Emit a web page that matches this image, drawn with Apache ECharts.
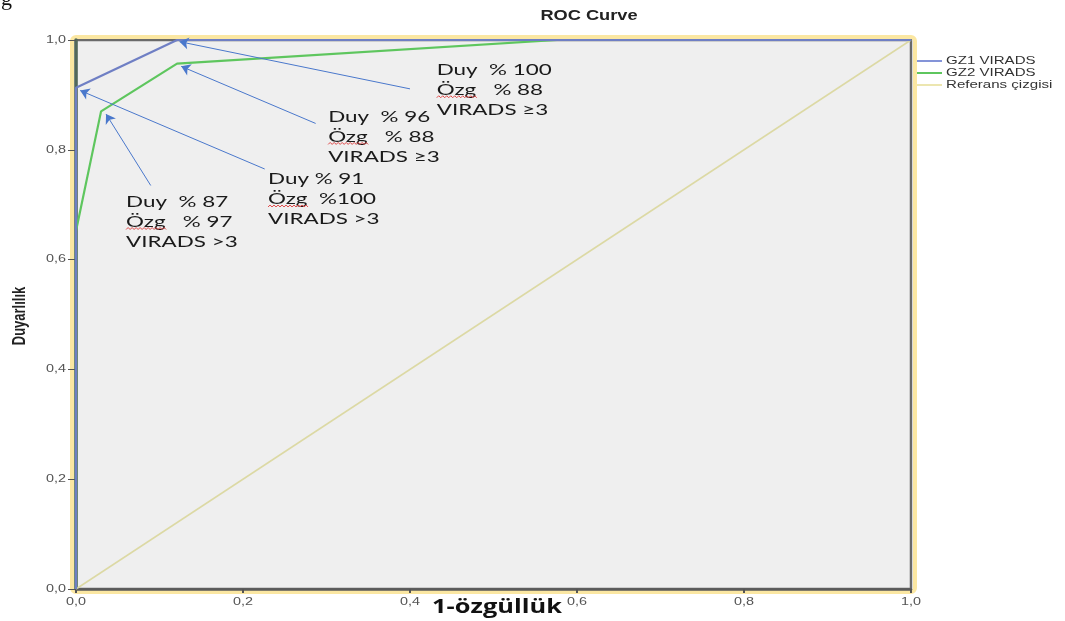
<!DOCTYPE html>
<html>
<head>
<meta charset="utf-8">
<script src="https://cdn.jsdelivr.net/npm/echarts@6/dist/echarts.min.js"></script>
<style>
  html, body { margin: 0; padding: 0; background: #ffffff; }
  #chart { width: 1065px; height: 621px; }
</style>
</head>
<body>
<div id="chart"></div>
<script>
// Axis ticks (1-specificity on x, sensitivity on y)
const xTicks = [0, 0.2, 0.4, 0.6, 0.8, 1.0];
const yTicks = [0, 0.2, 0.4, 0.6, 0.8, 1.0];

// ROC points for GZ1 VIRADS
const gz1Fpr = [0, 0, 0.121, 1];
const gz1Tpr = [0, 0.913, 1, 1];

// ROC points for GZ2 VIRADS
const gz2Fpr = [0, 0, 0.030, 0.121, 0.576, 1];
const gz2Tpr = [0, 0.652, 0.870, 0.957, 1, 1];

// Diagonal reference line
const refFpr = [0, 1];
const refTpr = [0, 1];

// Cut-off notes: text, top-left anchor, arrow tail and arrow tip (data units)
const noteTexts = [
  ['Duy  % 100', 'Özg   % 88', 'VIRADS ≥3'],
  ['Duy  % 96', 'Özg   % 88', 'VIRADS ≥3'],
  ['Duy % 91', 'Özg  %100', 'VIRADS >3'],
  ['Duy  % 87', 'Özg   % 97', 'VIRADS >3']
];
const noteAnchors = [[0.432, 0.964], [0.302, 0.879], [0.230, 0.765], [0.060, 0.724]];
const noteTails = [[0.400, 0.911], [0.287, 0.848], [0.226, 0.765], [0.0895, 0.735]];
const noteTips = [[0.124, 0.997], [0.126, 0.952], [0.005, 0.908], [0.036, 0.865]];

const legendNames = ['GZ1 VIRADS', 'GZ2 VIRADS', 'Referans çizgisi'];
const titleText = 'ROC Curve';
const xName = '1-özgüllük';
const yName = 'Duyarlılık';

const zip = (xs, ys) => xs.map((x, i) => [x, ys[i]]);
const fmt = v => v.toFixed(1).replace('.', ',');

// the whole figure's lettering is widened horizontally
const WIDE = 1.37;

const LEG_LEFT = 917, LEG_TOP = 55, LEG_ROW = 12, LEG_SWATCH = 25;

const chart = echarts.init(document.getElementById('chart'), null, { renderer: 'canvas' });

const option = {
  animation: false,
  backgroundColor: '#ffffff',
  legend: {
    data: legendNames,
    orient: 'vertical',
    left: LEG_LEFT,
    top: LEG_TOP,
    padding: 0,
    itemGap: 0,
    itemWidth: LEG_SWATCH,
    itemHeight: 2,
    icon: 'rect',
    selectedMode: false,
    // names are lettered separately (widened), the legend keeps the rows and swatches
    textStyle: { fontFamily: 'Arial, Liberation Sans', fontSize: 11, color: 'rgba(0,0,0,0)', lineHeight: LEG_ROW }
  },
  grid: {
    left: 76, right: 154, top: 40, bottom: 32,
    containLabel: false,
    outerBoundsMode: 'none',
    show: true,
    backgroundColor: '#efefef',
    borderColor: '#6a6a6a',
    borderWidth: 2.5
  },
  xAxis: {
    type: 'value',
    min: xTicks[0],
    max: xTicks[xTicks.length - 1],
    interval: 0.2,
    axisLine: { show: true, lineStyle: { color: '#5a5a5a', width: 2.5 } },
    axisTick: { show: true, length: 4, lineStyle: { color: '#555', width: 2 } },
    axisLabel: { show: false },
    splitLine: { show: false }
  },
  yAxis: {
    type: 'value',
    min: yTicks[0],
    max: yTicks[yTicks.length - 1],
    interval: 0.2,
    axisLine: { show: true, lineStyle: { color: '#52685a', width: 3.5 } },
    axisTick: { show: true, length: 8, lineStyle: { color: '#555', width: 1 } },
    axisLabel: { show: false },
    splitLine: { show: false }
  },
  series: [
    {
      name: 'Referans çizgisi',
      type: 'line',
      data: zip(refFpr, refTpr),
      symbol: 'none',
      lineStyle: { color: '#dcd9a4', width: 1.5 },
      itemStyle: { color: '#ece6b0' },
      z: 2
    },
    {
      name: 'GZ2 VIRADS',
      type: 'line',
      data: zip(gz2Fpr, gz2Tpr),
      symbol: 'none',
      lineStyle: { color: '#5ec65e', width: 2.2 },
      itemStyle: { color: '#5ec65e' },
      z: 3
    },
    {
      name: 'GZ1 VIRADS',
      type: 'line',
      data: zip(gz1Fpr, gz1Tpr),
      symbol: 'none',
      lineStyle: { color: '#6f7fc4', width: 2.2 },
      itemStyle: { color: '#8494d8' },
      z: 4
    },
    {
      name: 'notes',
      type: 'line',
      data: [],
      z: 5,
      markLine: {
        silent: true,
        symbol: ['none', 'arrow'],
        symbolSize: 9,
        label: { show: false },
        lineStyle: { color: '#4a78cc', width: 1, type: 'solid' },
        emphasis: { disabled: true },
        data: noteTails.map((t, i) => [{ coord: t }, { coord: noteTips[i] }])
      }
    }
  ]
};

chart.setOption(option);

const toPx = v => chart.convertToPixel({ gridIndex: 0 }, v);
const graphics = [];

// tick labels, placed through the axes' scales
const tickFont = '10.5px Arial, "Liberation Sans", sans-serif';
xTicks.forEach(v => {
  const p = toPx([v, 0]);
  graphics.push({
    type: 'text', x: p[0], y: p[1] + 13, scaleX: WIDE, z: 10,
    style: { text: fmt(v), font: tickFont, fill: '#555', textAlign: 'center', textVerticalAlign: 'middle' }
  });
});
yTicks.forEach(v => {
  const p = toPx([0, v]);
  graphics.push({
    type: 'text', x: p[0] - 10, y: p[1], scaleX: WIDE, z: 10,
    style: { text: fmt(v), font: tickFont, fill: '#555', textAlign: 'right', textVerticalAlign: 'middle' }
  });
});

// legend names
legendNames.forEach((name, i) => {
  graphics.push({
    type: 'text', x: LEG_LEFT + LEG_SWATCH + 4, y: LEG_TOP + LEG_ROW * i + LEG_ROW / 2, scaleX: WIDE, z: 10,
    style: { text: name, font: '11px Arial, "Liberation Sans", sans-serif', fill: '#333', textAlign: 'left', textVerticalAlign: 'middle' }
  });
});

// title and axis names
const pTL = toPx([0, 1]);
const pBR = toPx([1, 0]);
graphics.push({
  type: 'text', x: 589, y: 16, scaleX: 1.3, z: 10,
  style: { text: titleText, font: 'bold 14px Arial, "Liberation Sans", sans-serif', fill: '#222', textAlign: 'center', textVerticalAlign: 'middle' }
});
graphics.push({
  type: 'text', x: 497, y: pBR[1] + 18, scaleX: 1.27, z: 10,
  style: { text: xName, font: 'bold 20px "Open Sans", Lato, sans-serif', fill: '#111', textAlign: 'center', textVerticalAlign: 'middle' }
});
graphics.push({
  type: 'text', x: 20, y: 316, rotation: Math.PI / 2, scaleY: WIDE, z: 10,
  style: { text: yName, font: 'bold 13px Arial, "Liberation Sans", sans-serif', fill: '#222', textAlign: 'center', textVerticalAlign: 'middle' }
});

// cut-off notes
noteTexts.forEach((lines, i) => {
  const p = toPx(noteAnchors[i]);
  graphics.push({
    type: 'text', x: p[0], y: p[1], scaleX: 1.4, z: 10,
    style: {
      text: lines.join('\n'),
      font: '16px Lato, "Open Sans", sans-serif',
      lineHeight: 20,
      fill: '#1a1a1a',
      textVerticalAlign: 'top'
    }
  });
  // red spell-check squiggle under "Özg"
  const pts = [];
  const y0 = p[1] + 37;
  for (let k = 0; k <= 20; k++) {
    pts.push([p[0] + k * 2, y0 + (k % 2 ? -1 : 1)]);
  }
  graphics.push({
    type: 'polyline', z: 10,
    shape: { points: pts },
    style: { stroke: '#e04848', lineWidth: 1, fill: null }
  });
});

// pale yellow frame around the plot area
graphics.push({
  type: 'rect', z: 0,
  shape: { x: pTL[0] - 4, y: pTL[1] - 3, width: pBR[0] - pTL[0] + 8, height: pBR[1] - pTL[1] + 6, r: 4 },
  style: { stroke: '#fbe7a2', lineWidth: 4, fill: null }
});

// leftover glyph from the surrounding page at the top-left corner
graphics.push({
  type: 'text', x: 1, y: -12,
  style: { text: 'g', font: '22px "Liberation Serif", serif', fill: '#111', textVerticalAlign: 'top' }
});

chart.setOption({ graphic: graphics });
</script>
</body>
</html>
